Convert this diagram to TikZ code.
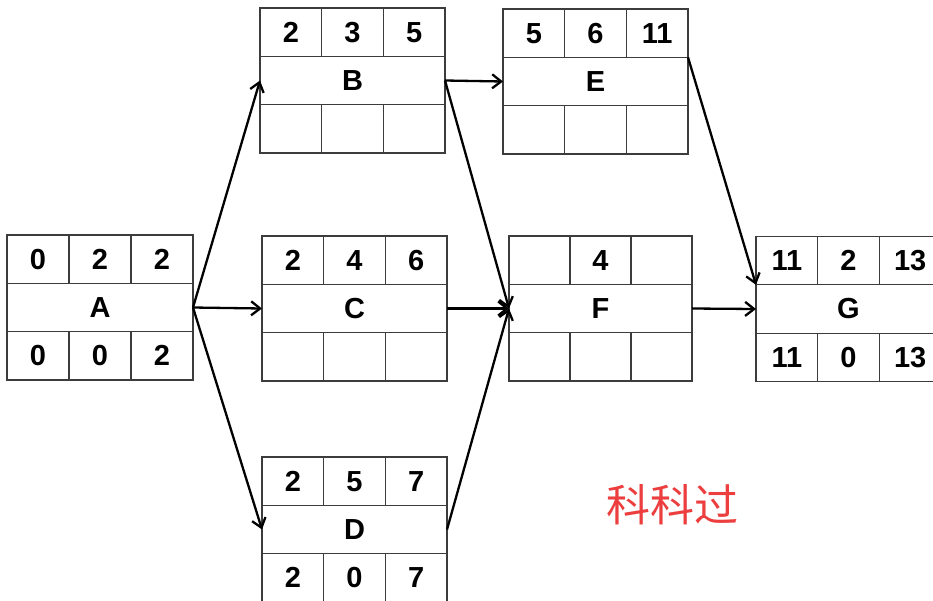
\documentclass[tikz,border=0pt]{standalone}
\usepackage{fontspec}
\setmainfont{Liberation Sans}
\newfontfamily\cjk{Noto Sans CJK SC}
\usetikzlibrary{arrows.meta}
\definecolor{boxline}{RGB}{60,60,60}
\definecolor{wmred}{RGB}{236,62,62}
\tikzset{
  boxnode/.style={draw=boxline, line width=1.3pt, minimum height=145pt, inner sep=0pt, outer sep=0pt, fill=white},
  cellline/.style={draw=boxline, line width=1.3pt},
  celltext/.style={font=\fontsize{29}{31}\selectfont\bfseries, inner sep=0pt, anchor=center},
  conn/.style={draw=black, line width=2.3pt, -{Straight Barb[length=9pt,width=14pt]}},
}
% #1 name, #2 cx, #3 cy, #4 width, #5 label, #6 #7 #8 top row, #9 bottom row as a,b,c
\newcommand\actbox[9]{%
  \node[boxnode, minimum width=#4pt] (#1) at (#2,#3) {};
  \draw[cellline] ({#2-#4/2},{#3-72.5+48.33}) -- ({#2+#4/2},{#3-72.5+48.33});
  \draw[cellline] ({#2-#4/2},{#3+72.5-48.33}) -- ({#2+#4/2},{#3+72.5-48.33});
  \draw[cellline] ({#2-#4/6},{#3-72.5}) -- ({#2-#4/6},{#3-72.5+48.33});
  \draw[cellline] ({#2+#4/6},{#3-72.5}) -- ({#2+#4/6},{#3-72.5+48.33});
  \draw[cellline] ({#2-#4/6},{#3+72.5}) -- ({#2-#4/6},{#3+72.5-48.33});
  \draw[cellline] ({#2+#4/6},{#3+72.5}) -- ({#2+#4/6},{#3+72.5-48.33});
  \coordinate (#1-tl) at ({#2-#4/2},{#3-72.5+48.33});
  \coordinate (#1-tr) at ({#2+#4/2},{#3-72.5+48.33});
  \node[celltext] (#1-lab) at (#2,#3) {#5};
  \node[celltext] (#1-t1) at ({#2-#4/3},{#3-48.33}) {#6};
  \node[celltext] (#1-t2) at ({#2},{#3-48.33}) {#7};
  \node[celltext] (#1-t3) at ({#2+#4/3},{#3-48.33}) {#8};
  \foreach \v [count=\i] in {#9} {
    \node[celltext] (#1-b\i) at ({#2+(\i-2)*#4/3},{#3+48.33}) {\v};
  }
}
\begin{document}
\begin{tikzpicture}[x=1pt,y=-1pt]
  \useasboundingbox[fill=white] (0,0) rectangle (933,600);
  \actbox{A}{100}{307.5}{186}{A}{0}{2}{2}{0,0,2}
  \actbox{B}{352.5}{80.5}{185}{B}{2}{3}{5}{{},{},{}}
  \actbox{C}{354.5}{308.5}{185}{C}{2}{4}{6}{{},{},{}}
  \actbox{D}{354.5}{529.5}{185}{D}{2}{5}{7}{2,0,7}
  \actbox{E}{595.5}{81.5}{185}{E}{5}{6}{11}{{},{},{}}
  \actbox{F}{600.5}{308.5}{183}{F}{}{4}{}{{},{},{}}
  \actbox{G}{848.5}{309}{185}{G}{11}{2}{13}{11,0,13}
  \draw[conn] (A.east) -- (B.west);
  \draw[conn] (A.east) -- (C.west);
  \draw[conn] (A.east) -- (D.west);
  \draw[conn] (B.east) -- (E.west);
  \draw[conn] (B.east) -- (F.west);
  \draw[conn] (C.east) -- (F.west);
  \draw[conn] (D.east) -- (F.west);
  \draw[conn] (E-tr) -- (G-tl);
  \draw[conn] (F.east) -- (G.west);
  \node[text=wmred, font=\cjk\fontsize{44}{46}\selectfont, inner sep=0pt] (wm) at (672,505) {科科过};
\end{tikzpicture}
\end{document}
